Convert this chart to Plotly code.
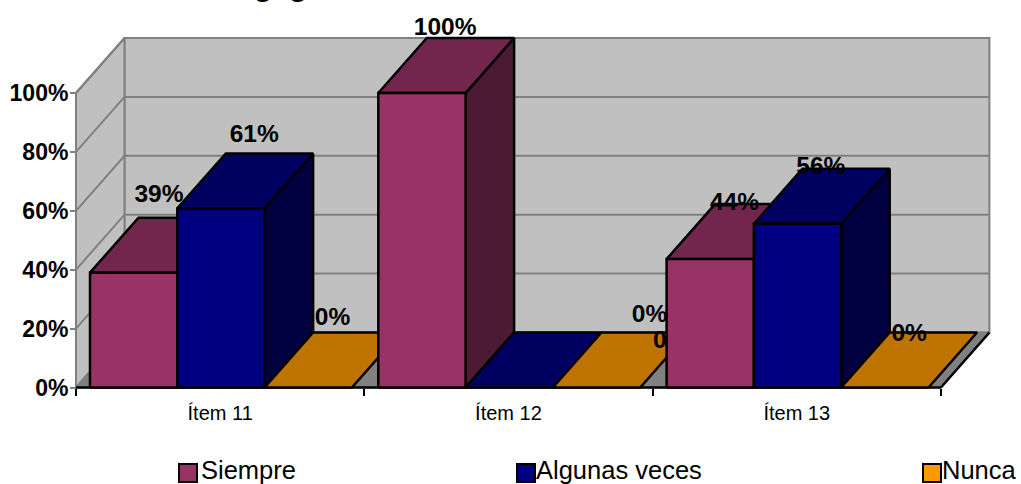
import plotly.graph_objects as go

categories = ["Ítem 11", "Ítem 12", "Ítem 13"]
series_names = ["Siempre", "Algunas veces", "Nunca"]
siempre = [0.39, 1.00, 0.436]
algunas_veces = [0.608, 0.0, 0.556]
nunca = [0.0, 0.0, 0.0]
value_ticks = [0, 0.2, 0.4, 0.6, 0.8, 1.0]
title_fragment = "gag"

# styles: (front, top, side, legend swatch)
palette = [
    ("#993366", "#73264D", "#4D1A33", "#993366"),
    ("#000080", "#000060", "#000040", "#000080"),
    ("#BF7300", "#BF7300", "#8F5600", "#FF9900"),
]
# pixel geometry of the oblique projection
PX_X, PX_Y = 288.3, 294.5       # pixels per category / per 100 %
LEFT, BOTTOM = 76, 387.5
W, H = 1021, 484
DX, DY = 48.5 / PX_X, 55 / PX_Y  # depth shift in axis units
GAP, BAR = 14 / PX_X, 87.3 / PX_X
FONT = "Liberation Sans"
GRID = "#808080"

# label shifts (px) from the bar's back-top centre, one row per series
label_dx = [[1, -1, 0], [9, 116, -1], [0, 50, 0]]
label_dy = [[21.5, 9.5, 0.5], [17.5, 16.5, 0.5], [13.5, -9.5, -2]]


def px_x(p):
    return (p - LEFT) / PX_X


def poly(xs, ys, fill, line, width=2.5):
    return go.Scatter(
        x=list(xs) + [xs[0]], y=list(ys) + [ys[0]], mode="lines", fill="toself",
        fillcolor=fill, line=dict(color=line, width=width), hoverinfo="skip",
        showlegend=False,
    )


def edge(xs, ys, color, width):
    return go.Scatter(x=xs, y=ys, mode="lines", line=dict(color=color, width=width),
                      hoverinfo="skip", showlegend=False)


fig = go.Figure()
n = len(categories)

# walls and floor
fig.add_trace(poly([0, n, n + DX, DX], [0, 0, DY, DY], GRID, GRID, 2))
fig.add_trace(poly([DX, n + DX, n + DX, DX], [DY, DY, 1 + DY, 1 + DY], "#C0C0C0", GRID, 2))
fig.add_trace(poly([0, DX, DX, 0], [0, DY, 1 + DY, 1], "#C0C0C0", GRID, 2))
for t in value_ticks:
    fig.add_trace(edge([0, DX, n + DX], [t, t + DY, t + DY], GRID, 2))
fig.add_trace(edge([n, n + DX], [0, DY], "black", 2.5))
fig.add_trace(edge([0, n], [0, 0], "black", 2.5))

all_values = [siempre, algunas_veces, nunca]
for c in range(n):
    for s, values in enumerate(all_values):
        v = values[c]
        x0 = c + GAP + s * BAR
        x1 = x0 + BAR
        front, top, side, _ = palette[s]
        if v > 0:
            fig.add_trace(poly([x1, x1 + DX, x1 + DX, x1], [0, DY, v + DY, v], side, "black"))
        fig.add_trace(poly([x0, x1, x1 + DX, x0 + DX], [v, v, v + DY, v + DY], top, "black"))
        if v > 0:
            fig.add_trace(poly([x0, x1, x1, x0], [0, 0, v, v], front, "black"))
        cx = (x0 + x1) / 2 + DX / 2 + label_dx[s][c] / PX_X
        cy = v + DY + label_dy[s][c] / PX_Y
        fig.add_trace(go.Scatter(
            x=[cx], y=[cy], mode="text", text=[f"{v:.0%}"],
            textposition="middle center",
            textfont=dict(family=FONT, size=24.5, color="black", weight="bold"),
            hoverinfo="skip", showlegend=False,
        ))

# legend row
legend_swatch_px = [188, 526, 932]
legend_text_px = [201, 536, 942]
swatch_y = (BOTTOM - 473) / PX_Y
text_y = (BOTTOM - 473) / PX_Y
for name, pal, p, tp in zip(series_names, palette, legend_swatch_px, legend_text_px):
    fig.add_trace(go.Scatter(
        x=[px_x(p)], y=[swatch_y], mode="markers",
        marker=dict(symbol="square", size=18, color=pal[3], line=dict(color="black", width=2)),
        hoverinfo="skip", showlegend=False,
    ))
    fig.add_trace(go.Scatter(
        x=[px_x(tp)], y=[text_y], mode="text", text=[name],
        textposition="middle right",
        textfont=dict(family=FONT, size=25.5, color="black"),
        hoverinfo="skip", showlegend=False,
    ))

fig.add_annotation(
    text=f"<b>{title_fragment}</b>", xref="paper", yref="paper",
    x=280 / W, y=(H - 4) / H,
    xanchor="center", yanchor="bottom", showarrow=False,
    font=dict(family=FONT, size=30, color="black"),
)

fig.update_layout(
    width=W, height=H,
    margin=dict(l=0, r=0, t=0, b=0, pad=0),
    paper_bgcolor="white", plot_bgcolor="white",
    showlegend=False, hovermode=False,
    xaxis=dict(
        range=[-LEFT / PX_X, (W - LEFT) / PX_X], domain=[0, 1], anchor="free",
        position=(H - BOTTOM) / H,
        tickmode="array", tickvals=[i + 0.5 for i in range(n)], ticktext=categories,
        ticks="", ticklabelstandoff=11, showgrid=False, zeroline=False, showline=False,
        tickfont=dict(family=FONT, size=20, color="black"),
        minor=dict(tickmode="array", tickvals=list(range(n + 1)), ticks="outside", ticklen=7,
                   tickwidth=2, tickcolor="black", showgrid=False),
    ),
    yaxis=dict(
        range=[-(H - BOTTOM) / PX_Y, BOTTOM / PX_Y], domain=[0, 1], anchor="free",
        position=LEFT / W,
        tickmode="array", tickvals=value_ticks, tickformat=".0%",
        ticks="outside", ticklen=6, tickwidth=2, tickcolor=GRID, ticklabelstandoff=-3,
        showgrid=False, zeroline=False, showline=False,
        tickfont=dict(family=FONT, size=23, color="black", weight="bold"),
    ),
)
fig.write_html(
    "out.html", config=dict(displayModeBar=False),
    post_script="document.body.style.margin='0';document.body.style.overflow='hidden';",
)
